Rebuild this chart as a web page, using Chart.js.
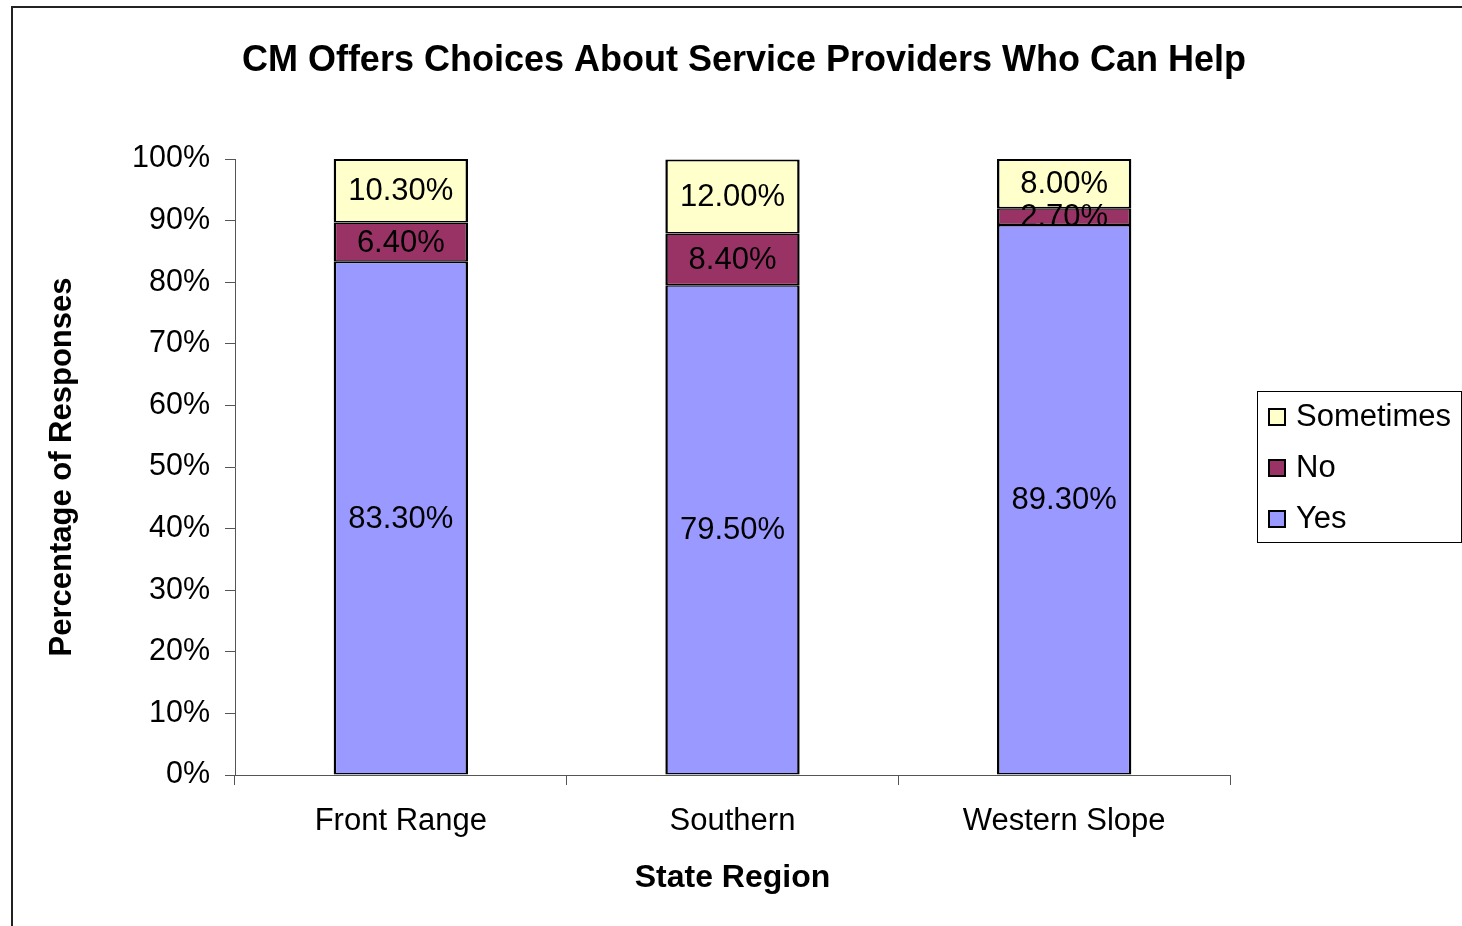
<!DOCTYPE html>
<html>
<head>
    <style>
        html, body { margin: 0; padding: 0; background: #fff; }
        canvas { display: block; }
    </style>
    <script src="https://cdn.jsdelivr.net/npm/chart.js"></script>
</head>
<body>
    <canvas id="cmChart" width="1462" height="926"></canvas>

    <script>
        // data
        const regions = ['Front Range', 'Southern', 'Western Slope'];
        const yesValues = [83.3, 79.5, 89.3];
        const noValues = [6.4, 8.4, 2.7];
        const sometimesValues = [10.3, 12.0, 8.0];
        const chartTitle = 'CM Offers Choices About Service Providers Who Can Help';

        const FONT = '"Liberation Sans", Arial, sans-serif';
        Chart.defaults.font.family = FONT;
        Chart.defaults.color = '#000';

        // outer frame + title
        const framePlugin = {
            id: 'frame',
            beforeDraw(chart) {
                const c = chart.ctx;
                c.save();
                c.strokeStyle = '#222';
                c.lineWidth = 2;
                c.beginPath();
                c.moveTo(12, 926);
                c.lineTo(12, 7);
                c.lineTo(1462, 7);
                c.stroke();
                c.fillStyle = '#000';
                c.font = 'bold 36px ' + FONT;
                c.textAlign = 'center';
                c.textBaseline = 'middle';
                c.fillText(chartTitle, 744, 61);
                c.restore();
            }
        };

        // value labels centred in each segment
        const valueLabels = {
            id: 'valueLabels',
            afterDatasetsDraw(chart) {
                const c = chart.ctx;
                c.save();
                c.font = '31px ' + FONT;
                c.fillStyle = '#000';
                c.textAlign = 'center';
                c.textBaseline = 'middle';
                chart.data.datasets.forEach((ds, i) => {
                    chart.getDatasetMeta(i).data.forEach((bar, j) => {
                        const p = bar.getProps(['x', 'y', 'base'], true);
                        c.fillText(ds.data[j].toFixed(2) + '%', p.x, (p.y + p.base) / 2 + 1);
                    });
                });
                c.restore();
            }
        };

        // legend box on the right, top item = last dataset
        const sideLegend = {
            id: 'sideLegend',
            afterDraw(chart) {
                const c = chart.ctx;
                c.save();
                c.strokeStyle = '#000';
                c.lineWidth = 1;
                c.strokeRect(1257.5, 391.5, 204, 151);
                c.font = '31px ' + FONT;
                c.textBaseline = 'middle';
                c.textAlign = 'left';
                const sets = chart.data.datasets.slice().reverse();
                sets.forEach((ds, k) => {
                    const y = 417 + k * 51;
                    c.fillStyle = ds.backgroundColor;
                    c.fillRect(1269, y - 8, 16, 16);
                    c.lineWidth = 2;
                    c.strokeRect(1269, y - 8, 16, 16);
                    c.fillStyle = '#000';
                    c.fillText(ds.label, 1296, y);
                });
                c.restore();
            }
        };

        const side = { top: 1.5, bottom: 1.5, left: 2.5, right: 2.5 };

        const ctx = document.getElementById('cmChart').getContext('2d');
        new Chart(ctx, {
            type: 'bar',
            data: {
                labels: regions,
                datasets: [
                    {
                        label: 'Yes',
                        data: yesValues,
                        backgroundColor: '#9999FF',
                        borderColor: '#000',
                        borderWidth: side,
                        borderSkipped: false
                    },
                    {
                        label: 'No',
                        data: noValues,
                        backgroundColor: '#993366',
                        borderColor: '#000',
                        borderWidth: side,
                        borderSkipped: false
                    },
                    {
                        label: 'Sometimes',
                        data: sometimesValues,
                        backgroundColor: '#FFFFCC',
                        borderColor: '#000',
                        borderWidth: { top: 2, bottom: 1.5, left: 2.5, right: 2.5 },
                        borderSkipped: false
                    }
                ]
            },
            options: {
                responsive: false,
                animation: false,
                layout: { padding: { left: 0, right: 232, top: 159, bottom: 31 } },
                datasets: { bar: { barPercentage: 0.405, categoryPercentage: 1.0 } },
                plugins: {
                    legend: { display: false },
                    title: { display: false },
                    tooltip: { enabled: false }
                },
                scales: {
                    x: {
                        stacked: true,
                        afterFit(scale) { scale.height = 120; },
                        grid: { drawOnChartArea: false, tickLength: 10, color: '#555', offset: true },
                        border: { color: '#555', width: 1 },
                        ticks: { font: { size: 31 }, padding: 18, color: '#000' },
                        title: {
                            display: true,
                            text: 'State Region',
                            font: { size: 32, weight: 'bold' },
                            padding: { top: 0, bottom: -2 },
                            color: '#000'
                        }
                    },
                    y: {
                        stacked: true,
                        min: 0,
                        max: 100,
                        afterFit(scale) { scale.width = 235; },
                        grid: { drawOnChartArea: false, tickLength: 10, color: '#555' },
                        border: { color: '#555', width: 1 },
                        ticks: {
                            stepSize: 10,
                            font: { size: 30.5 },
                            padding: 15,
                            color: '#000',
                            callback: v => v + '%'
                        },
                        title: {
                            display: true,
                            text: 'Percentage of Responses',
                            font: { size: 31, weight: 'bold' },
                            padding: { top: 44, bottom: 0 },
                            color: '#000'
                        }
                    }
                }
            },
            plugins: [framePlugin, valueLabels, sideLegend]
        });
    </script>
</body>
</html>
